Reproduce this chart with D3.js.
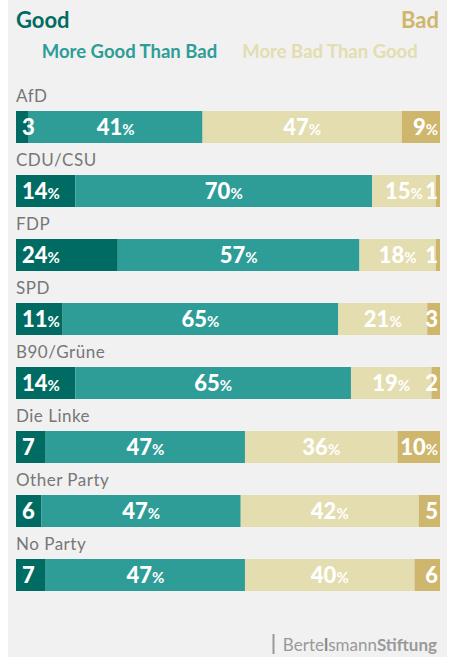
<!DOCTYPE html>
<html>
<head>
<meta charset="utf-8">
<script src="https://cdn.jsdelivr.net/npm/d3@7"></script>
<style>
  body { margin: 0; background: #fff; }
  svg { display: block; font-family: Lato, "Open Sans", sans-serif; }
</style>
</head>
<body>
<div id="chart"></div>
<script>
// parties top to bottom
var parties = ["AfD", "CDU/CSU", "FDP", "SPD", "B90/Grüne", "Die Linke", "Other Party", "No Party"];
var good         = [3, 14, 24, 11, 14, 7, 6, 7];
var moreGood     = [41, 70, 57, 65, 65, 47, 47, 47];
var moreBad      = [47, 15, 18, 21, 19, 36, 42, 40];
var bad          = [9, 1, 1, 3, 2, 10, 5, 6];
var seriesNames  = ["Good", "More Good Than Bad", "More Bad Than Good", "Bad"];
var colors = ["#006b63", "#2e9d98", "#e3ddaf", "#ceb66c"];

var width = 450, height = 657;
var svg = d3.select("#chart").append("svg")
  .attr("width", width).attr("height", height);

svg.append("rect").attr("x", 8).attr("y", 0).attr("width", 439).attr("height", height)
  .attr("fill", "#f1f1f1");

var x = d3.scaleLinear().domain([0, 100]).range([16, 440]);
var y = d3.scaleBand().domain(parties).range([79, 591]).paddingInner(0).paddingOuter(0);
var barH = 32;

// headings
svg.append("text").attr("x", 16).attr("y", 28).text(seriesNames[0])
  .attr("fill", colors[0]).attr("font-weight", 700).attr("font-size", 22);
svg.append("text").attr("x", 439).attr("y", 28).text(seriesNames[3]).attr("text-anchor", "end")
  .attr("fill", colors[3]).attr("font-weight", 700).attr("font-size", 22);
svg.append("text").attr("x", 129.5).attr("y", 58).text(seriesNames[1]).attr("text-anchor", "middle")
  .attr("fill", colors[1]).attr("font-weight", 700).attr("font-size", 18.5);
svg.append("text").attr("x", 330).attr("y", 58).text(seriesNames[2]).attr("text-anchor", "middle")
  .attr("fill", colors[2]).attr("font-weight", 700).attr("font-size", 18.5);

var rows = parties.map(function(p, i) {
  return { party: p, vals: [good[i], moreGood[i], moreBad[i], bad[i]] };
});

var row = svg.selectAll(".row").data(rows).enter().append("g").attr("class", "row")
  .attr("transform", function(d) { return "translate(0," + (y(d.party) + 32) + ")"; });

row.append("text").attr("x", 16).attr("y", -9.5).text(function(d) { return d.party; })
  .attr("fill", "#777").attr("font-size", 17).attr("letter-spacing", 0.5);

// segments first, labels on top
row.each(function(d) {
  var g = d3.select(this);
  var cum = 0, segs = [];
  d.vals.forEach(function(v, j) {
    segs.push({ v: v, j: j, x0: x(cum), x1: x(cum + v) });
    cum += v;
  });
  g.selectAll("rect").data(segs).enter().append("rect")
    .attr("x", function(s) { return s.x0; }).attr("y", 0)
    .attr("width", function(s) { return s.x1 - s.x0; }).attr("height", barH)
    .attr("fill", function(s) { return colors[s.j]; });
  segs.forEach(function(s) {
    var tx, anchor = "middle";
    if (s.j == 0) { tx = s.x0 + 6; anchor = "start"; }
    else if (s.j == 3) { tx = 438; anchor = "end"; }
    else tx = (s.x0 + s.x1) / 2;
    var t = g.append("text").attr("x", tx).attr("y", 24).attr("text-anchor", anchor)
      .attr("fill", "#fff").attr("font-weight", 900).attr("font-size", 22);
    t.append("tspan").text(s.v);
    if (s.v >= 8) t.append("tspan").text("%").attr("font-size", 15).attr("font-weight", 700);
  });
});

// footer logo
svg.append("line").attr("x1", 273.5).attr("x2", 273.5).attr("y1", 634).attr("y2", 654)
  .attr("stroke", "#999").attr("stroke-width", 2);
var logo = svg.append("text").attr("x", 437).attr("y", 651).attr("text-anchor", "end")
  .attr("fill", "#999").attr("font-size", 17);
logo.append("tspan").text("Berte");
logo.append("tspan").text("l").attr("font-weight", 700).attr("fill", "#888");
logo.append("tspan").text("smann");
logo.append("tspan").text("Stiftung").attr("font-weight", 700);
</script>
</body>
</html>
